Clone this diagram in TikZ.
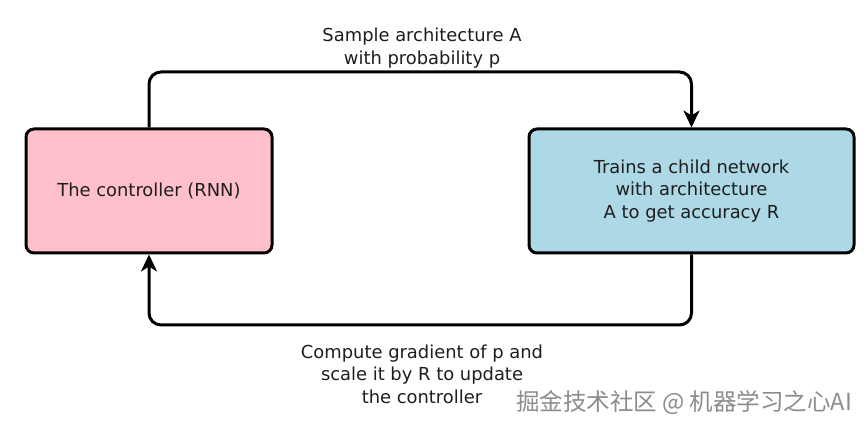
\documentclass[tikz,border=0pt]{standalone}
\usepackage{fontspec}
\setmainfont{DejaVu Sans}
\newfontfamily\cjk{Noto Sans CJK SC}
\usetikzlibrary{arrows.meta}
\definecolor{pinkc}{HTML}{FFC0CB}
\definecolor{bluec}{HTML}{ADD8E6}
\definecolor{txtc}{HTML}{1E1E1E}
\begin{document}
\begin{tikzpicture}[x=1pt,y=-1pt,
  box/.style={draw=black, line width=3pt, rounded corners=8pt, align=center,
    font=\fontsize{17.9}{22.5}\selectfont, text=txtc, inner sep=0pt},
  lbl/.style={align=center, font=\fontsize{17.9}{22.5}\selectfont, text=txtc, inner sep=0pt},
  link/.style={draw=black, line width=3pt, rounded corners=12pt,
    -{Stealth[length=17pt,width=16pt,inset=5pt]}}]
\useasboundingbox (0,0) rectangle (868,430);
\fill[white] (0,0) rectangle (868,430);
\node[box, fill=pinkc, minimum width=246pt, minimum height=124pt] (ctrl) at (149,191) {The controller (RNN)};
\node[box, fill=bluec, minimum width=325pt, minimum height=124pt] (child) at (691.5,191) {Trains a child network\\with architecture\\A to get accuracy R};
\coordinate (tl) at (149,72);
\coordinate (tr) at (691.5,72);
\coordinate (br) at (691.5,325);
\coordinate (bl) at (149,325);
\draw[link] (ctrl.north) -- (tl) -- (tr) -- (child.north);
\draw[link] (child.south) -- (br) -- (bl) -- (ctrl.south);
\node[lbl] (top) at (422,48) {Sample architecture A\\with probability p};
\node[lbl] (bot) at (422,374) {Compute gradient of p and\\scale it by R to update\\the controller};
\node[font=\cjk\fontsize{23.5}{23.5}\selectfont, text=black!45, anchor=west, inner sep=0pt] (wm) at (516,403) {掘金技术社区 @ 机器学习之心AI};
\end{tikzpicture}
\end{document}
